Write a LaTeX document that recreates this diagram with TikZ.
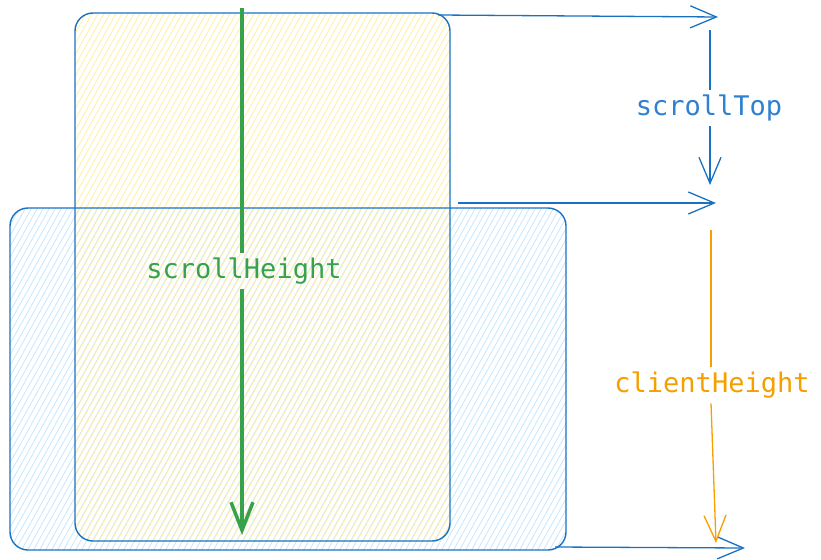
\documentclass[tikz,border=0pt]{standalone}
\usepackage{fontspec}
\setmonofont{DejaVu Sans Mono}
\usetikzlibrary{arrows.meta}
\definecolor{exblue}{HTML}{1971C2}
\definecolor{extext}{HTML}{2F80D0}
\definecolor{exgreen}{HTML}{37A24B}
\definecolor{exorange}{HTML}{F59F00}
\definecolor{exyellow}{HTML}{FFEC99}
\definecolor{exsky}{HTML}{A5D8FF}

\begin{document}
\begin{tikzpicture}[x=1pt, y=-1pt, font=\ttfamily\fontsize{27}{32}\selectfont,
  box/.style={draw=exblue, line width=1.4pt, rounded corners=18pt},
  arr/.style={-{Straight Barb[length=26pt,width=22pt]}, line width=1.3pt},
  lbl/.style={inner xsep=0pt, inner ysep=5pt}]
  \useasboundingbox (0,0) rectangle (821,559);
  % hachures
  \begin{scope}
    \clip[rounded corners=18pt] (10,208) rectangle (566,550);
    \foreach \i in {-320,-314,...,580} \draw[exsky!65, line width=0.8pt] (\i,560) -- (\i+200,200);
  \end{scope}
  \begin{scope}
    \clip[rounded corners=18pt] (75,13) rectangle (450,541);
    \foreach \i in {-260,-254,...,460} \draw[exyellow!90, line width=0.8pt] (\i,550) -- (\i+300,10);
  \end{scope}
  % boxes
  \draw[box] (75,13) rectangle (450,541);
  \draw[box] (10,208) rectangle (566,550);

  % ends of the connectors
  \coordinate (t1) at (438,15);  \coordinate (t2) at (718,17);
  \coordinate (m1) at (458,203); \coordinate (m2) at (716,203);
  \coordinate (b1) at (555,547); \coordinate (b2) at (745,548);
  \coordinate (st1) at (710,30);  \coordinate (st2) at (710,185);
  \coordinate (ch1) at (711,230); \coordinate (ch2) at (716,543);
  \coordinate (sh1) at (242,8);   \coordinate (sh2) at (242,535);

  \draw[arr, exblue] (t1) -- (t2);
  \draw[arr, exblue] (m1) -- (m2);
  \draw[arr, exblue] (b1) -- (b2);

  \node[lbl, text=extext] (top) at (709,108) {scrollTop};
  \draw[exblue, line width=1.3pt] (st1) -- (top.north -| st1);
  \draw[arr, exblue] (top.south -| st1) -- (st2);

  \node[lbl, text=exorange] (client) at (712,385) {clientHeight};
  \draw[exorange, line width=1.3pt] (ch1) -- (client.north -| ch1);
  \draw[arr, exorange] (client.south -| ch1) -- (ch2);

  \node[lbl, text=exgreen] (height) at (244,271) {scrollHeight};
  \draw[exgreen, line width=3.5pt] (sh1) -- (height.north -| sh1);
  \draw[exgreen, line width=3.5pt, -{Straight Barb[length=28pt,width=22pt]}] (height.south -| sh1) -- (sh2);
\end{tikzpicture}
\end{document}
